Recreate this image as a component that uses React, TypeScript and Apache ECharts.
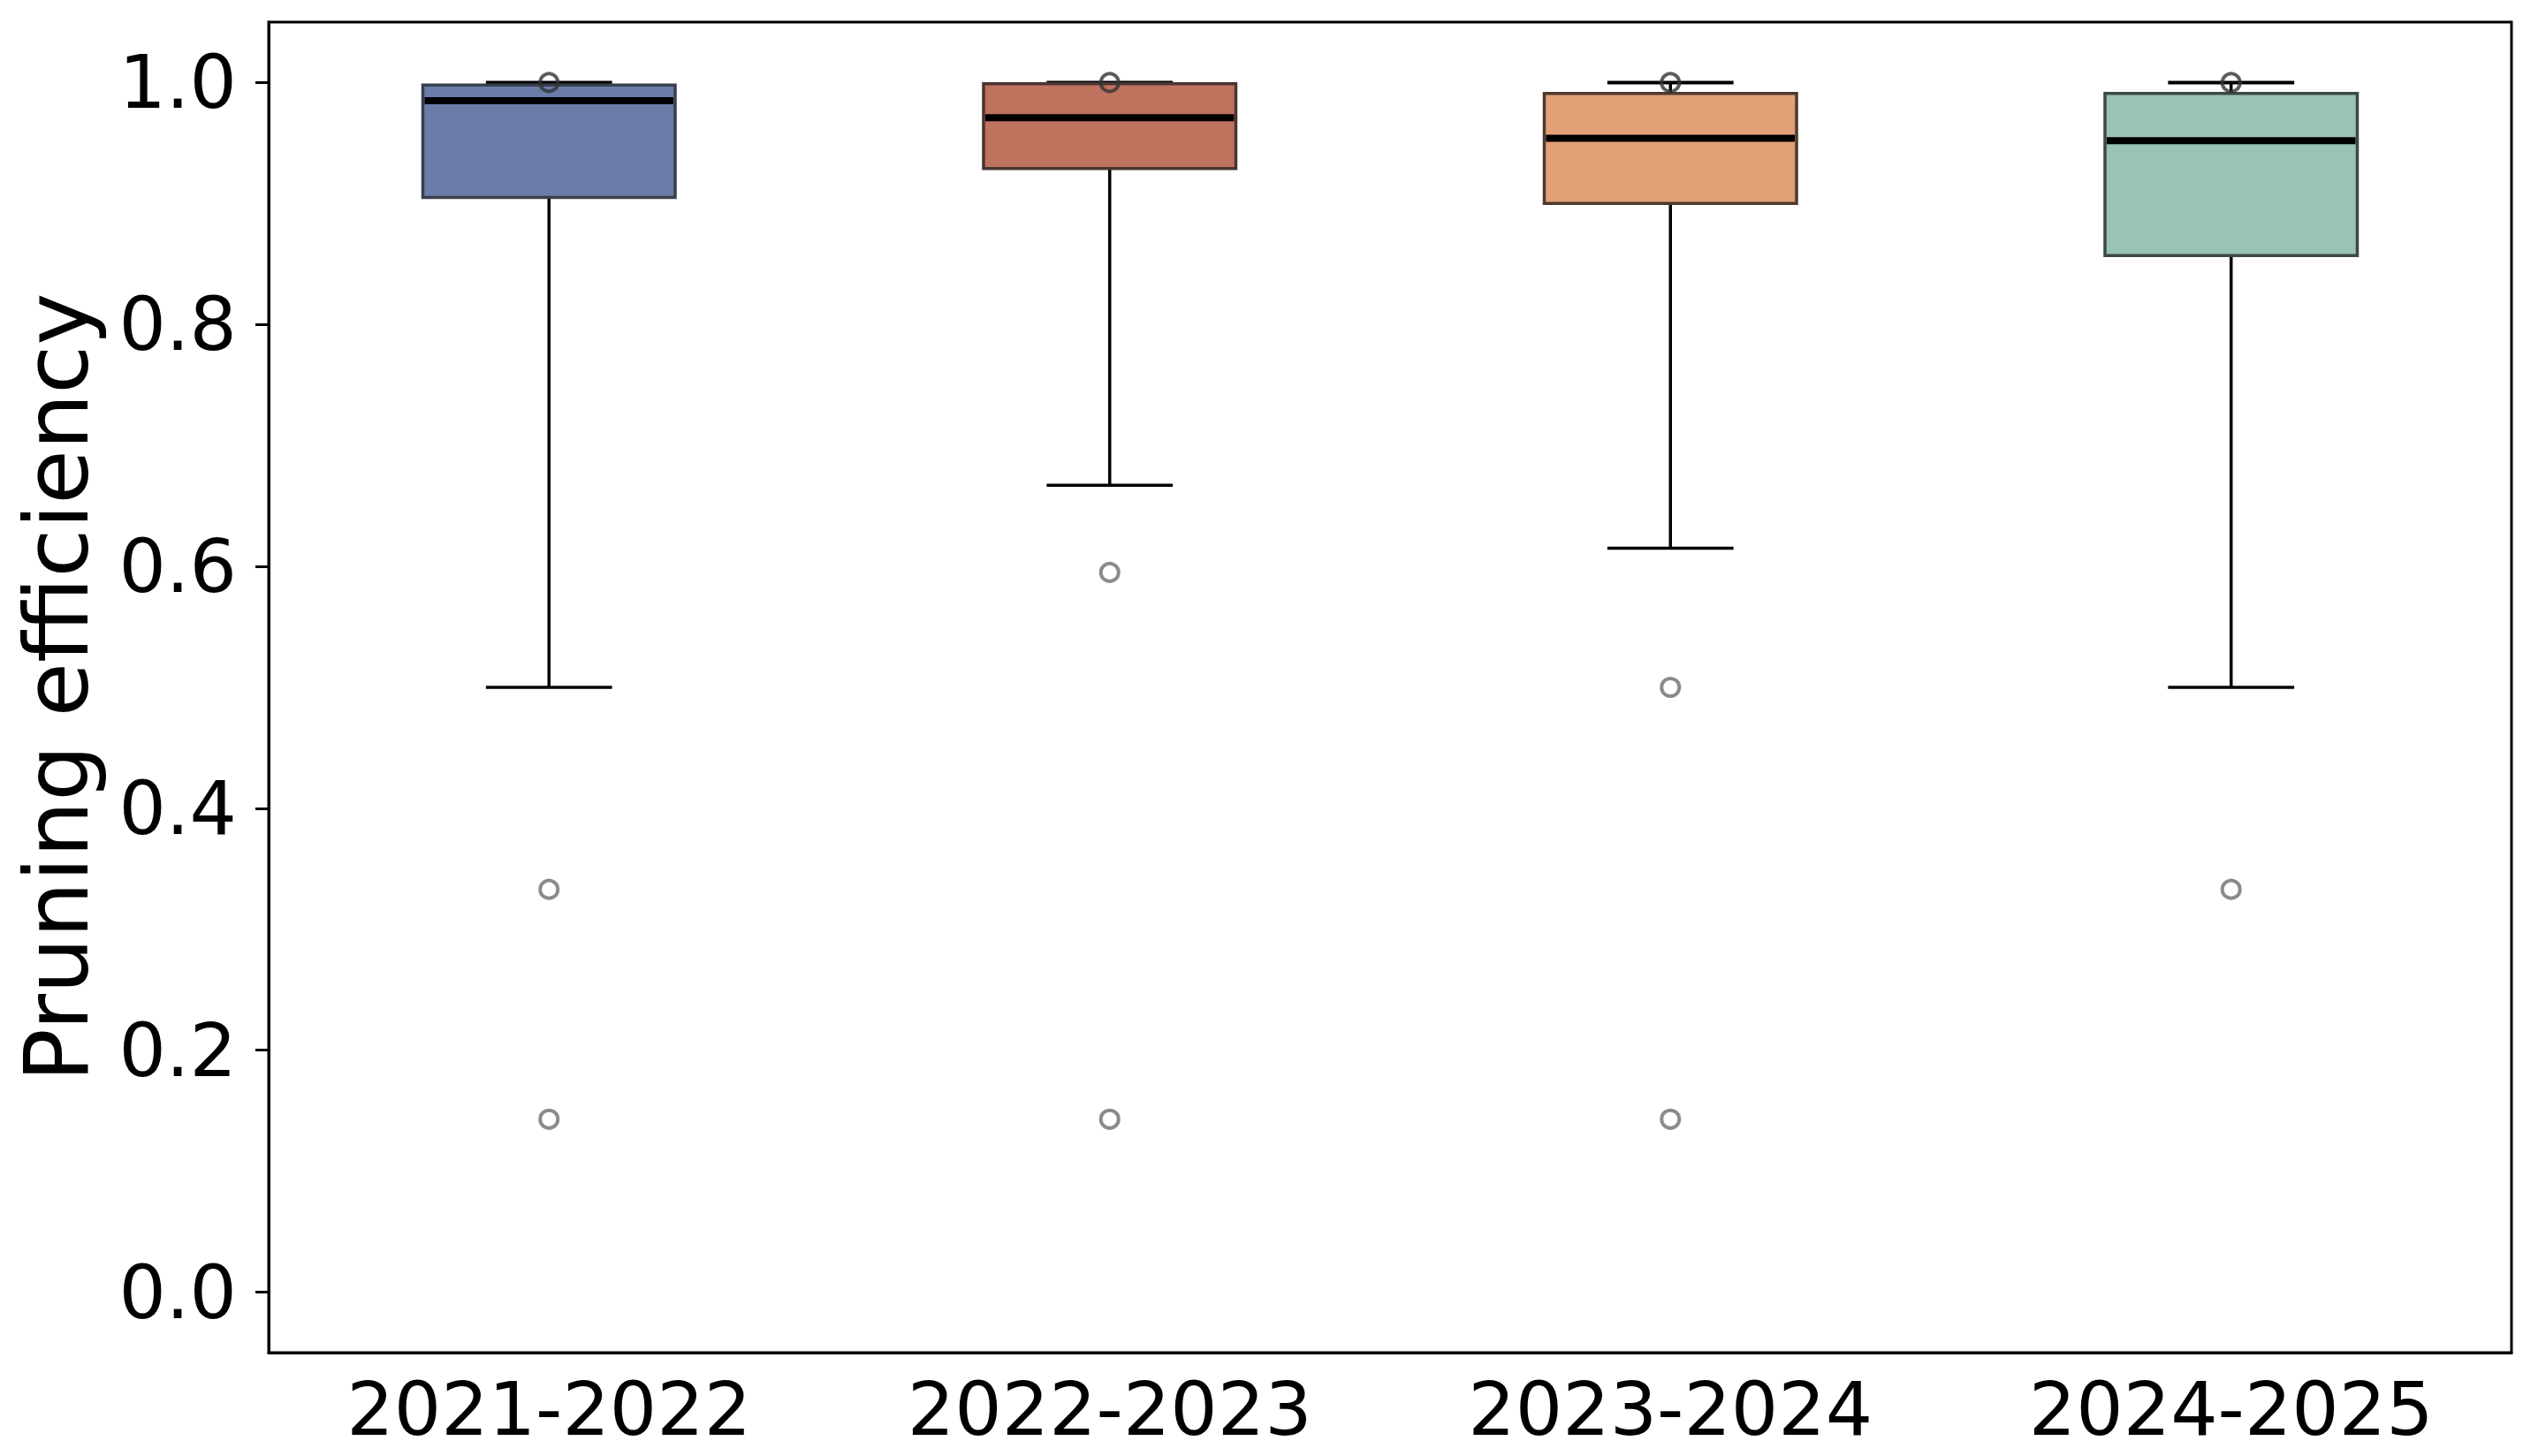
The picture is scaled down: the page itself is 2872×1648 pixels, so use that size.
import React, { useEffect, useRef } from 'react';
import * as echarts from 'echarts';

const categories = ['2021-2022', '2022-2023', '2023-2024', '2024-2025'];
const lowerWhisker = [0.5, 0.667, 0.615, 0.5];
const q1 = [0.905, 0.929, 0.9, 0.857];
const median = [0.985, 0.971, 0.954, 0.952];
const q3 = [0.998, 0.999, 0.991, 0.991];
const upperWhisker = [1.0, 1.0, 1.0, 1.0];
// [category index, value]
const outliers = [
  [0, 0.333], [0, 0.143],
  [1, 0.595], [1, 0.143],
  [2, 0.5], [2, 0.143],
  [3, 0.333],
];
const topPoints = [[0, 1.0], [1, 1.0], [2, 1.0], [3, 1.0]];
const yTicks = [0, 0.2, 0.4, 0.6, 0.8, 1.0];

const fills = ['#6a7ca8', '#bf725e', '#e2a077', '#9ac3b5'];
const edges = ['#3a3f4d', '#4a3530', '#4d3a2e', '#3c4a45'];

const FONT = '"DejaVu Sans", sans-serif';

export default function App() {
  const ref = useRef<HTMLDivElement>(null);

  useEffect(() => {
    document.body.style.margin = '0';
    if (!ref.current) return;
    const chart = echarts.init(ref.current, null, { renderer: 'svg' });

    const boxData = categories.map((_, i) => [
      i, lowerWhisker[i], q1[i], median[i], q3[i], upperWhisker[i],
    ]);

    chart.setOption({
      animation: false,
      backgroundColor: '#fff',
      grid: {
        left: 304, right: 30, top: 25, bottom: 117,
        show: true, borderColor: '#000', borderWidth: 3, backgroundColor: 'transparent',
      },
      xAxis: {
        type: 'category',
        data: categories,
        boundaryGap: true,
        axisLine: { onZero: false, lineStyle: { color: '#000', width: 3 } },
        axisTick: { alignWithLabel: true, length: 15, lineStyle: { color: '#000', width: 3 } },
        axisLabel: { color: '#000', fontSize: 84, fontFamily: FONT, margin: 22 },
        splitLine: { show: false },
      },
      yAxis: {
        type: 'value',
        min: -0.05,
        max: 1.05,
        name: 'Pruning efficiency',
        nameLocation: 'middle',
        nameGap: 190,
        nameTextStyle: { color: '#000', fontSize: 100, fontFamily: FONT },
        axisLine: { show: true, lineStyle: { color: '#000', width: 3 } },
        axisTick: { show: true, length: 15, customValues: yTicks, lineStyle: { color: '#000', width: 3 } },
        axisLabel: {
          color: '#000', fontSize: 84, fontFamily: FONT, margin: 36,
          customValues: yTicks,
          formatter: (v: number) => v.toFixed(1),
        },
        splitLine: { show: false },
      },
      series: [
        {
          type: 'custom',
          data: boxData,
          encode: { x: 0, y: [1, 2, 3, 4, 5] },
          renderItem: (params: any, api: any) => {
            const i = params.dataIndex;
            const idx = api.value(0);
            const lo = api.coord([idx, api.value(1)]);
            const b1 = api.coord([idx, api.value(2)]);
            const md = api.coord([idx, api.value(3)]);
            const b3 = api.coord([idx, api.value(4)]);
            const hi = api.coord([idx, api.value(5)]);
            const band = api.size([1, 0])[0];
            const bw = band * 0.45;
            const cw = bw / 2;
            const x = lo[0];
            const lineStyle = { stroke: '#000', lineWidth: 3.5 };
            return {
              type: 'group',
              children: [
                { type: 'line', shape: { x1: x, y1: b1[1], x2: x, y2: lo[1] }, style: lineStyle },
                { type: 'line', shape: { x1: x, y1: b3[1], x2: x, y2: hi[1] }, style: lineStyle },
                { type: 'line', shape: { x1: x - cw / 2, y1: lo[1], x2: x + cw / 2, y2: lo[1] }, style: lineStyle },
                { type: 'line', shape: { x1: x - cw / 2, y1: hi[1], x2: x + cw / 2, y2: hi[1] }, style: { stroke: '#000', lineWidth: 4 } },
                {
                  type: 'rect',
                  shape: { x: x - bw / 2, y: b3[1], width: bw, height: b1[1] - b3[1] },
                  style: { fill: fills[i], stroke: edges[i], lineWidth: 3.5 },
                },
                {
                  type: 'line',
                  shape: { x1: x - bw / 2 + 2, y1: md[1], x2: x + bw / 2 - 2, y2: md[1] },
                  style: { stroke: '#000', lineWidth: 8 },
                },
              ],
            };
          },
        },
        {
          type: 'scatter',
          data: outliers,
          symbol: 'circle',
          symbolSize: 20,
          itemStyle: { color: 'rgba(255,255,255,0)', borderColor: '#6e6e6e', borderWidth: 4 },
        },
        {
          type: 'scatter',
          data: topPoints,
          symbol: 'circle',
          symbolSize: 20,
          itemStyle: { color: 'rgba(255,255,255,0)', borderColor: '#333', borderWidth: 4 },
        },
      ],
    });

    return () => chart.dispose();
  }, []);

  return <div ref={ref} style={{ width: 2872, height: 1648 }} />;
}
